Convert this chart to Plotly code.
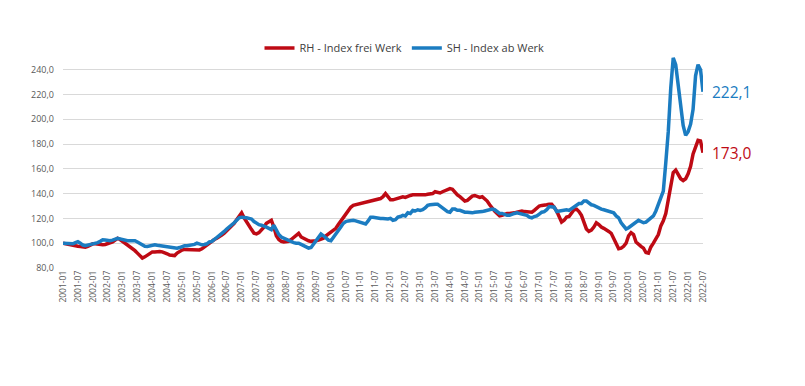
import pandas as pd
import plotly.graph_objects as go

# Monthly periods 2001-01 .. 2022-07
months = [d.strftime("%Y-%m") for d in pd.date_range("2001-01-01", "2022-07-01", freq="MS")]

rh_name = "RH - Index frei Werk"
sh_name = "SH - Index ab Werk"

rh_values = [
    # 2001
    100, 99.5, 99, 98.5, 98.5, 98, 97.5, 97.3, 97, 96.8, 97.5, 98.5,
    # 2002
    99.5, 99.5, 99, 98.5, 98.7, 99, 99.5, 100, 101, 102.5, 104, 103,
    # 2003
    101.5, 100, 99, 97.5, 96, 94, 92, 90, 88, 89, 90.5, 92,
    # 2004
    93, 93, 93.3, 93.3, 93, 92.5, 91.5, 90.5, 90, 90, 92, 93.5,
    # 2005
    94.5, 95, 95, 95.2, 95, 95, 94.6, 94.6, 95.5, 97, 98.5, 100.5,
    # 2006
    101.5, 103, 104, 105, 106.5, 108, 110, 112, 113.5, 116, 119, 122,
    # 2007
    124.5, 120.5, 117, 114, 111, 108, 107.5, 108.5, 110.5, 113, 116, 117.5,
    # 2008
    118.5, 113, 106, 103, 101.5, 101, 101, 101.5, 103, 104.5, 106, 108,
    # 2009
    105, 104, 102.5, 102, 101.5, 101.5, 102, 102.5, 103, 104, 106, 107.5,
    # 2010
    108.5, 110, 112, 115, 118, 121, 124, 127, 129, 130.5, 131, 131.5,
    # 2011
    131.5, 132.5, 133, 133.5, 134, 134.5, 134.5, 135, 136, 137.5, 140, 137.5,
    # 2012
    135, 135, 135.5, 136, 136.5, 137.5, 137, 138, 138.5, 139, 139, 138.5,
    # 2013
    138.5, 138.5, 139, 139.5, 139.5, 140, 141.5, 141, 140.5, 141.5, 142.5, 143.5,
    # 2014
    144, 143.5, 141, 139, 137.5, 135.5, 134, 134.5, 136.5, 138, 138.5, 137.5,
    # 2015
    137, 137.5, 136, 134, 131, 128, 126, 124, 122, 122.5, 123.5, 124,
    # 2016
    124, 124, 124.5, 125, 125.5, 126, 125.5, 125.5, 125, 125, 126.5, 128.5,
    # 2017
    130, 130.5, 130.5, 131, 131.5, 131.5, 129, 126, 121.5, 117, 118.5, 121,
    # 2018
    121.5, 124, 127, 127.5, 125.5, 122.5, 117, 111.5, 109.5, 110.5, 113, 116.5,
    # 2019
    115, 113, 112, 111, 109.5, 108, 103.5, 99, 95.5, 96, 97.5, 100,
    # 2020
    106, 108.5, 107, 101, 99, 97.5, 96, 92.5, 92, 97, 100, 104,
    # 2021
    107, 114, 118, 124, 136, 149, 157, 159, 155.5, 152, 150.5, 152,
    # 2022
    156, 162, 172, 178, 183, 182.5, 173.0,
]

sh_values = [
    # 2001
    100, 99.8, 99.5, 99.5, 99.5, 100.5, 101.2, 100, 98.5, 98, 98.5, 99,
    # 2002
    99, 99.5, 100.5, 101.5, 102.7, 102.5, 102, 102, 102.5, 103, 104, 103.5,
    # 2003
    103, 102, 102, 102, 102, 102, 101, 100, 99, 97.5, 97.3, 98,
    # 2004
    98.5, 98.7, 98.3, 98, 97.5, 97.3, 97, 96.8, 96.5, 96.2, 96, 96.5,
    # 2005
    97.5, 97.9, 98, 98.2, 98.4, 99, 100, 99.5, 98.7, 99, 99.5, 101,
    # 2006
    101.5, 103, 104.5, 106, 108, 109.5, 111.5, 113, 115, 116.5, 118.5, 120.5,
    # 2007
    121, 121, 120.5, 120, 119.5, 117.5, 116, 115, 114.5, 114, 113, 112,
    # 2008
    111, 114.5, 110, 107, 105, 104, 103, 102, 101, 100.5, 100, 100,
    # 2009
    99, 98, 97, 96, 96.5, 99, 102, 105, 107.5, 106, 104, 102.5,
    # 2010
    102, 104.5, 107.5, 110.5, 113, 116, 117.5, 118, 118.5, 118.5, 118, 117.5,
    # 2011
    117, 116, 115.5, 118, 121, 121, 120.5, 120, 120, 120, 119.5, 119.5,
    # 2012
    120, 118.5, 119, 121, 121.5, 122.5, 122, 124.5, 124, 126.5, 126, 127,
    # 2013
    126.5, 127, 128.5, 130.5, 131, 131.5, 131.5, 131.5, 130, 128.5, 127, 125.5,
    # 2014
    125, 127.5, 127.5, 126.5, 126.5, 125.5, 125, 125, 124.5, 124.5, 125, 125,
    # 2015
    125, 125.5, 126, 126.5, 127, 127.5, 127, 125.5, 124, 124, 123, 122.5,
    # 2016
    122.5, 123.5, 124, 124.5, 124, 123.5, 123, 122.5, 121, 120.5, 121.5, 122,
    # 2017
    123.5, 125, 125.5, 127, 129.5, 129.5, 129, 125.5, 126, 126.5, 126.5, 127,
    # 2018
    126.5, 128, 129.5, 130.5, 132, 132, 134, 134, 132.5, 131, 130.5, 129.5,
    # 2019
    128, 127.5, 127, 126.5, 126, 125.5, 124.5, 122, 120.5, 116.5, 114, 111.5,
    # 2020
    112.5, 114, 115, 117, 118.5, 117.5, 116.5, 117, 118.5, 120, 122, 126,
    # 2021
    131, 136, 142, 165, 190, 225, 249.5, 244, 228, 213, 195, 187,
    # 2022
    190, 196, 208, 235, 244, 240, 222.1,
]

y_ticks = [80, 100, 120, 140, 160, 180, 200, 220, 240]
x_ticks = months[::6]

RED = "#BE0A14"
BLUE = "#1B7CC1"
FONT = "Open Sans"

fig = go.Figure()
fig.add_trace(go.Scatter(x=months, y=rh_values, mode="lines", name=rh_name,
                         line=dict(color=RED, width=3.5)))
fig.add_trace(go.Scatter(x=months, y=sh_values, mode="lines", name=sh_name,
                         line=dict(color=BLUE, width=3.5)))

def fmt(v):
    return f"{v:.1f}".replace(".", ",")

fig.add_annotation(x=months[-1], y=sh_values[-1], text=fmt(sh_values[-1]),
                   xanchor="left", yanchor="middle", xshift=7, showarrow=False,
                   font=dict(color=BLUE, size=15.5, family=FONT))
fig.add_annotation(x=months[-1], y=rh_values[-1], text=fmt(rh_values[-1]),
                   xanchor="left", yanchor="middle", xshift=7, showarrow=False,
                   font=dict(color=RED, size=15.5, family=FONT))

# page body has an 8px default margin, so the figure is sized/offset for it
fig.update_layout(
    width=797, height=378,
    margin=dict(l=55, r=102, t=48, b=118, autoexpand=False),
    paper_bgcolor="white", plot_bgcolor="white",
    separators=",.",
    font=dict(family=FONT, color="#595959", size=9),
    showlegend=True,
    legend=dict(orientation="h", xref="container", yref="container",
                x=0.4975, xanchor="center", y=0.894, yanchor="middle",
                font=dict(size=11, color="#404040", family=FONT),
                itemwidth=30, tracegroupgap=0),
)
fig.update_xaxes(type="category", range=[0, len(months) - 1],
                 tickmode="array", tickvals=x_ticks, ticktext=x_ticks,
                 tickangle=-90, tickfont=dict(size=8.5, color="#595959"),
                 showgrid=False, zeroline=False, showline=False, ticks="",
                 automargin=False)
fig.update_yaxes(range=[80, 251], tickmode="array", tickvals=y_ticks,
                 tickformat=".1f", tickfont=dict(size=9, color="#595959"),
                 showgrid=True, gridcolor="#D9D9D9", gridwidth=1,
                 zeroline=False, showline=False, ticks="", ticklabelstandoff=8,
                 automargin=False)

fig.write_html("out.html")
